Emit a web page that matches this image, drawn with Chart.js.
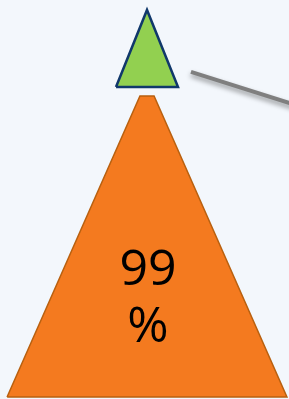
<!DOCTYPE html>
<html>
<head>
<meta charset="utf-8">
<script src="https://cdn.jsdelivr.net/npm/chart.js@4"></script>
<style>
  html, body { margin: 0; padding: 0; background: #f3f7fc; }
  canvas { display: block; }
</style>
</head>
<body>
<canvas id="chart" width="289" height="399"></canvas>
<script>
// segments, from the base of the pyramid upwards
const labels = ['99 %', '1 %'];
const values = [99, 1];
const fills = ['#f47a1f', '#92d050'];
const borders = ['#b8600f', '#10386b'];

// shape of a segment grows with its value
const HEIGHT_UNIT = 77, HEIGHT_EXP = 0.308;
const HALF_UNIT = 31, HALF_EXP = 0.328;
const BASE_Y = 2, CENTER_X = 147, OVERLAP = 7, GAP = 9;

function buildShapes() {
  const shapes = [];
  let base = BASE_Y;
  values.forEach((v, i) => {
    const h = HEIGHT_UNIT * Math.pow(v, HEIGHT_EXP);
    const half = HALF_UNIT * Math.pow(v, HALF_EXP);
    shapes.push({ base: base, apex: base + h, half: half });
    base = base + h - OVERLAP;
  });
  // cut the lower segments under the next one, leaving a gap
  for (let i = 0; i < shapes.length - 1; i++) {
    const s = shapes[i];
    s.top = Math.min(shapes[i + 1].base - GAP, s.apex);
  }
  shapes[shapes.length - 1].top = shapes[shapes.length - 1].apex;
  return shapes;
}

const shapes = buildShapes();

function polygon(s) {
  const topHalf = s.half * (s.apex - s.top) / (s.apex - s.base);
  const pts = [
    { x: CENTER_X - s.half, y: s.base },
    { x: CENTER_X + s.half, y: s.base },
    { x: CENTER_X + topHalf, y: s.top }
  ];
  if (topHalf > 0.01) pts.push({ x: CENTER_X - topHalf, y: s.top });
  pts.push({ x: CENTER_X - s.half, y: s.base });
  return pts;
}

// leader line from the small top segment towards its (off-page) label
const topShape = shapes[shapes.length - 1];
const leaderY = topShape.apex - 0.805 * (topShape.apex - topShape.base);
const leaderX = CENTER_X + topShape.half * 0.805 + 19;
const leader = [
  { x: leaderX, y: leaderY },
  { x: leaderX + 110, y: leaderY - 110 * 30 / 95 }
];

const datasets = shapes.map((s, i) => ({
  label: labels[i],
  data: polygon(s),
  showLine: true,
  fill: 'shape',
  backgroundColor: fills[i],
  borderColor: borders[i],
  borderWidth: i === shapes.length - 1 ? 2.5 : 1.5,
  borderJoinStyle: 'miter',
  pointRadius: 0,
  tension: 0
}));

datasets.push({
  label: 'leader',
  data: leader,
  showLine: true,
  fill: false,
  borderColor: '#7f7f7f',
  borderWidth: 4,
  pointRadius: 0,
  tension: 0
});

const shadowPlugin = {
  id: 'leaderShadow',
  beforeDatasetDraw(chart, args) {
    if (args.index !== datasets.length - 1) return;
    const ctx = chart.ctx;
    ctx.save();
    ctx.shadowColor = 'rgba(0,0,0,0.4)';
    ctx.shadowBlur = 5;
    ctx.shadowOffsetY = 3;
  },
  afterDatasetDraw(chart, args) {
    if (args.index !== datasets.length - 1) return;
    chart.ctx.restore();
  }
};

const labelPlugin = {
  id: 'segmentLabel',
  afterDatasetsDraw(chart) {
    const ctx = chart.ctx;
    const xs = chart.scales.x, ys = chart.scales.y;
    const s = shapes[0];
    const cx = xs.getPixelForValue(CENTER_X) + 1;
    const cy = ys.getPixelForValue(s.base + (s.apex - s.base) / 3) + 5;
    const lines = labels[0].split(' ');
    ctx.save();
    ctx.fillStyle = '#000';
    ctx.font = '50px "Open Sans", "Noto Sans", sans-serif';
    ctx.textAlign = 'center';
    ctx.textBaseline = 'alphabetic';
    const lh = 57;
    lines.forEach((t, i) => {
      const y = cy - (lines.length - 1) * lh / 2 + i * lh + 17;
      ctx.fillText(t, cx, y);
    });
    ctx.restore();
  }
};

new Chart(document.getElementById('chart'), {
  type: 'scatter',
  data: { datasets: datasets },
  options: {
    responsive: false,
    animation: false,
    layout: { padding: 0 },
    plugins: { legend: { display: false }, tooltip: { enabled: false } },
    scales: {
      x: { type: 'linear', min: 0, max: 289, display: false },
      y: { type: 'linear', min: 0, max: 399, display: false }
    }
  },
  plugins: [shadowPlugin, labelPlugin]
});
</script>
</body>
</html>
